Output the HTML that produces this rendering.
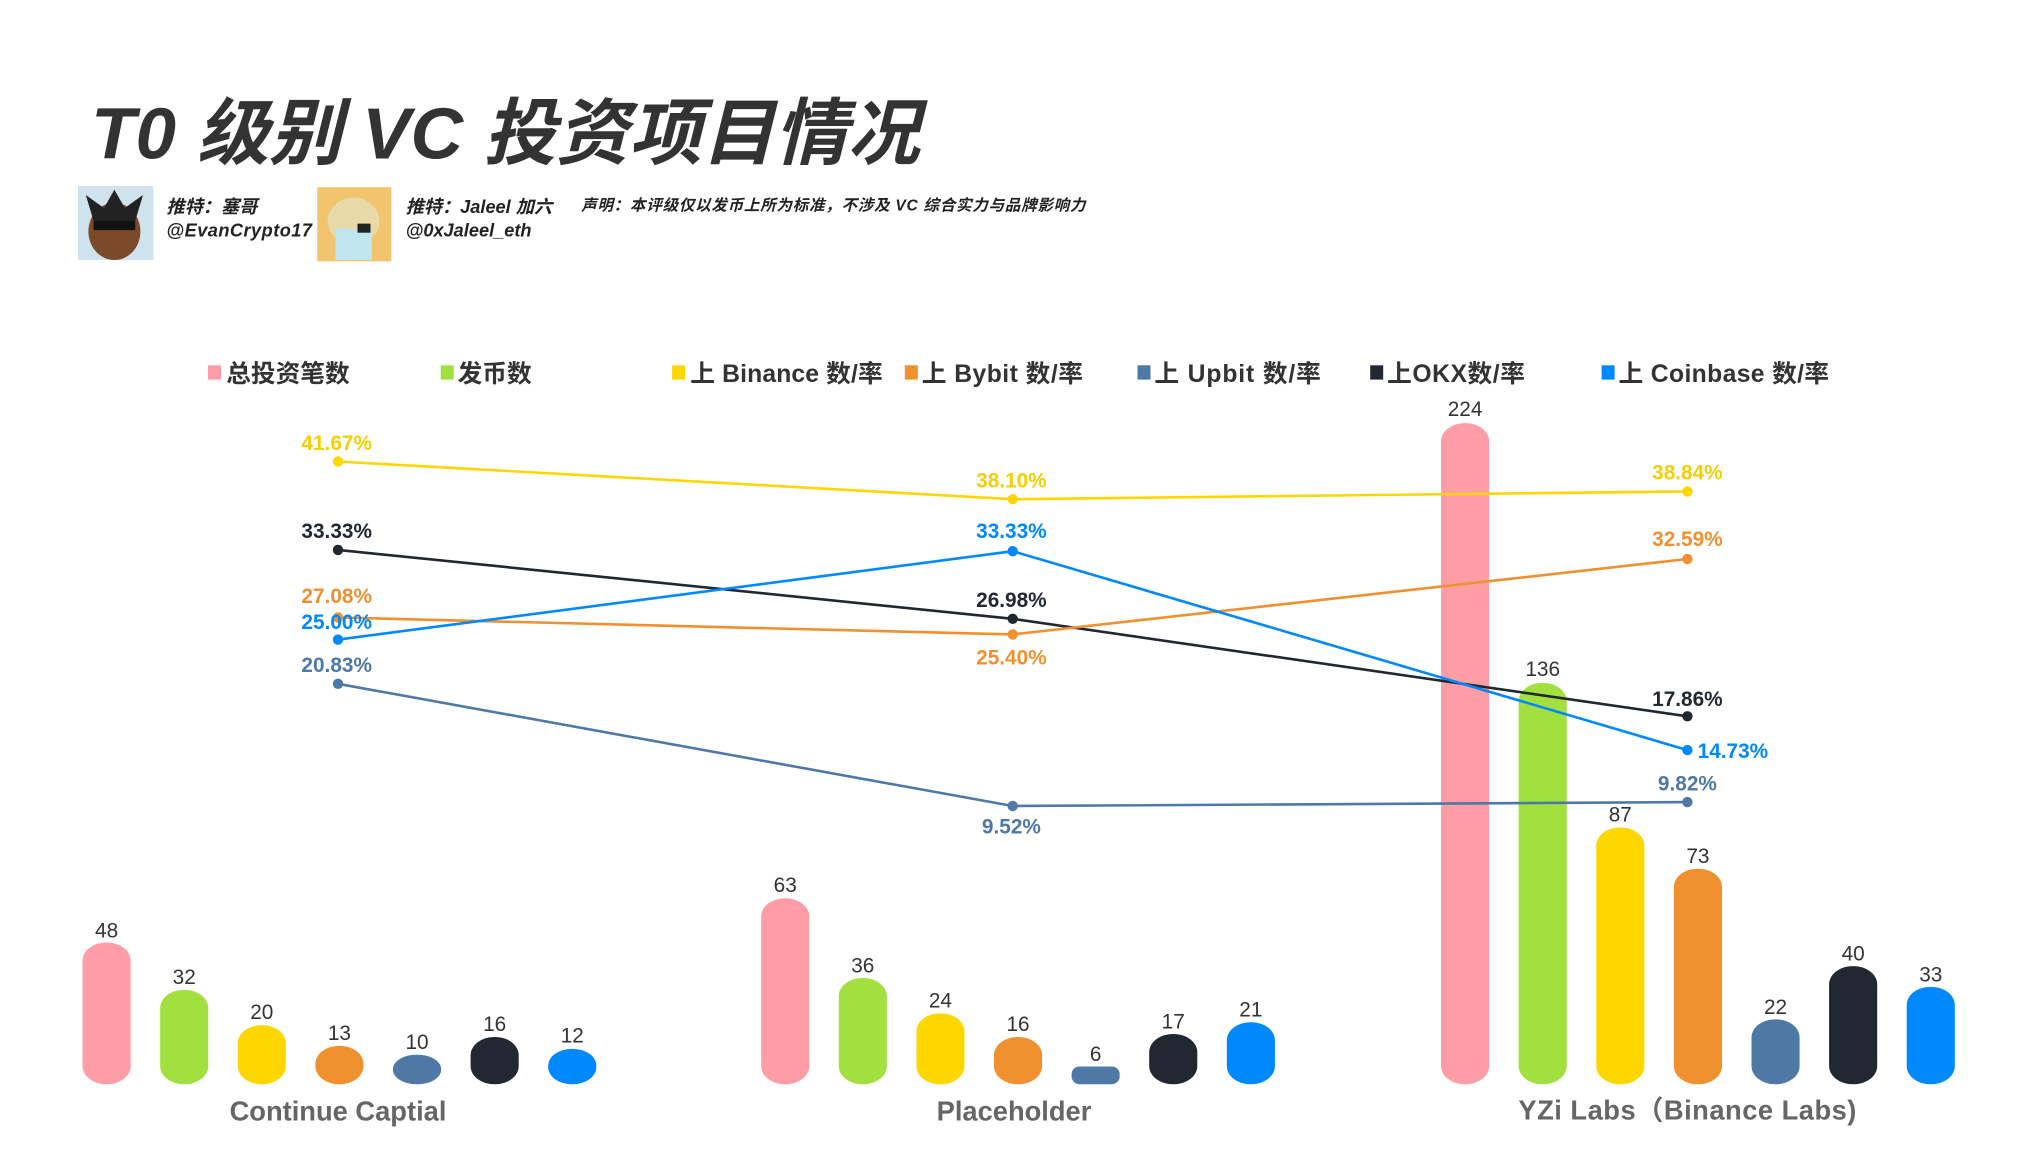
<!DOCTYPE html>
<html><head><meta charset="utf-8"><style>
html,body{margin:0;padding:0;background:#fff;}
svg{display:block;}
text{font-family:"Liberation Sans","Noto Sans CJK SC",sans-serif;}
</style></head><body>
<svg width="2028" height="1164" viewBox="0 0 1560 895.38" xmlns="http://www.w3.org/2000/svg">
<rect width="1560" height="896" fill="#fff"/>
<text x="70" y="122" font-size="56" font-weight="bold" font-style="italic" fill="#333">T0 级别 VC 投资项目情况</text>
<rect x="60" y="143" width="58" height="57" fill="#cfe3ef"/>
<ellipse cx="88" cy="178" rx="20" ry="22" fill="#7a4a2a"/>
<rect x="72" y="168" width="32" height="9" fill="#111"/>
<path d="M66 150 L80 160 L88 146 L96 160 L110 150 L104 170 L72 170 Z" fill="#222"/>
<rect x="244" y="144" width="57" height="57" fill="#f2c46e"/>
<ellipse cx="272" cy="170" rx="20" ry="18" fill="#e8d9a8"/>
<rect x="258" y="176" width="28" height="24" fill="#bfe6ee"/>
<rect x="275" y="172" width="10" height="7" fill="#222"/>
<g font-weight="bold" font-style="italic" fill="#222">
<text x="128" y="164" font-size="14">推特：塞哥</text>
<text x="128" y="182" font-size="14" textLength="112">@EvanCrypto17</text>
<text x="312" y="164" font-size="14">推特：Jaleel 加六</text>
<text x="312" y="182" font-size="14">@0xJaleel_eth</text>
<text x="447" y="162" font-size="12" textLength="388">声明：本评级仅以发币上所为标准，不涉及 VC 综合实力与品牌影响力</text>
</g>
<g font-size="19" font-weight="bold" fill="#333">
<rect x="160" y="281" width="10" height="11" fill="#FF9DA7"/><text x="174" y="294">总投资笔数</text>
<rect x="339" y="281" width="10" height="11" fill="#A2E03F"/><text x="352" y="294">发币数</text>
<rect x="517" y="281" width="10" height="11" fill="#FFD700"/><text x="531" y="294" textLength="148">上 Binance 数/率</text>
<rect x="696" y="281" width="10" height="11" fill="#F0902F"/><text x="709" y="294" textLength="124">上 Bybit 数/率</text>
<rect x="875" y="281" width="10" height="11" fill="#4E79A7"/><text x="888" y="294" textLength="128">上 Upbit 数/率</text>
<rect x="1054" y="281" width="10" height="11" fill="#222831"/><text x="1067" y="294" textLength="106">上OKX数/率</text>
<rect x="1232" y="281" width="10" height="11" fill="#0088FF"/><text x="1245" y="294" textLength="162">上 Coinbase 数/率</text>
</g>
<g>
<rect x="63.5" y="725" width="37" height="109" rx="18" ry="14" fill="#FF9DA7"/>
<rect x="123.2" y="761.4" width="37" height="72.6" rx="18" ry="14" fill="#A2E03F"/>
<rect x="182.9" y="788.6" width="37" height="45.4" rx="18" ry="14" fill="#FFD700"/>
<rect x="242.6" y="804.5" width="37" height="29.5" rx="18" ry="14" fill="#F0902F"/>
<rect x="302.3" y="811.3" width="37" height="22.7" rx="18" ry="11" fill="#4E79A7"/>
<rect x="362" y="797.7" width="37" height="36.3" rx="18" ry="14" fill="#222831"/>
<rect x="421.7" y="806.8" width="37" height="27.2" rx="18" ry="13" fill="#0088FF"/>
<rect x="585.5" y="691" width="37" height="143" rx="18" ry="14" fill="#FF9DA7"/>
<rect x="645.2" y="752.3" width="37" height="81.7" rx="18" ry="14" fill="#A2E03F"/>
<rect x="704.9" y="779.5" width="37" height="54.5" rx="18" ry="14" fill="#FFD700"/>
<rect x="764.6" y="797.7" width="37" height="36.3" rx="18" ry="14" fill="#F0902F"/>
<rect x="824.3" y="820.4" width="37" height="13.6" rx="6" ry="6" fill="#4E79A7"/>
<rect x="884" y="795.4" width="37" height="38.6" rx="18" ry="14" fill="#222831"/>
<rect x="943.7" y="786.3" width="37" height="47.7" rx="18" ry="14" fill="#0088FF"/>
<rect x="1108.5" y="325.5" width="37" height="508.5" rx="18" ry="14" fill="#FF9DA7"/>
<rect x="1168.2" y="525.3" width="37" height="308.7" rx="18" ry="14" fill="#A2E03F"/>
<rect x="1227.9" y="636.5" width="37" height="197.5" rx="18" ry="14" fill="#FFD700"/>
<rect x="1287.6" y="668.3" width="37" height="165.7" rx="18" ry="14" fill="#F0902F"/>
<rect x="1347.3" y="784.1" width="37" height="49.9" rx="18" ry="14" fill="#4E79A7"/>
<rect x="1407" y="743.2" width="37" height="90.8" rx="18" ry="14" fill="#222831"/>
<rect x="1466.7" y="759.1" width="37" height="74.9" rx="18" ry="14" fill="#0088FF"/>
</g>
<g font-size="16" fill="#333" text-anchor="middle">
<text x="82" y="721">48</text><text x="141.7" y="757">32</text><text x="201.4" y="784">20</text><text x="261.1" y="800">13</text><text x="320.8" y="807">10</text><text x="380.5" y="793">16</text><text x="440.2" y="802">12</text>
<text x="604" y="686">63</text><text x="663.7" y="748">36</text><text x="723.4" y="775">24</text><text x="783.1" y="793">16</text><text x="842.8" y="816">6</text><text x="902.5" y="791">17</text><text x="962.2" y="782">21</text>
<text x="1127" y="320">224</text><text x="1186.7" y="520">136</text><text x="1246.4" y="632">87</text><text x="1306.1" y="664">73</text><text x="1365.8" y="780">22</text><text x="1425.5" y="739">40</text><text x="1485.2" y="755">33</text>
</g>
<g font-size="21" font-weight="bold" fill="#666" text-anchor="middle">
<text x="260" y="862">Continue Captial</text>
<text x="780" y="862">Placeholder</text>
<text x="1298" y="861" textLength="260">YZi Labs（Binance Labs)</text>
</g>
<g fill="none" stroke-width="2">
<polyline points="260,355 779,384 1298,378" stroke="#FFD700"/>
<polyline points="260,423 779,476 1298,551" stroke="#222831"/>
<polyline points="260,475 779,488 1298,430" stroke="#F0902F"/>
<polyline points="260,492 779,424 1298,577" stroke="#0088FF"/>
<polyline points="260,526 779,620 1298,617" stroke="#4E79A7"/>
</g>
<g>
<circle cx="260" cy="355" r="4" fill="#FFD700"/><circle cx="779" cy="384" r="4" fill="#FFD700"/><circle cx="1298" cy="378" r="4" fill="#FFD700"/>
<circle cx="260" cy="423" r="4" fill="#222831"/><circle cx="779" cy="476" r="4" fill="#222831"/><circle cx="1298" cy="551" r="4" fill="#222831"/>
<circle cx="260" cy="475" r="4" fill="#F0902F"/><circle cx="779" cy="488" r="4" fill="#F0902F"/><circle cx="1298" cy="430" r="4" fill="#F0902F"/>
<circle cx="260" cy="492" r="4" fill="#0088FF"/><circle cx="779" cy="424" r="4" fill="#0088FF"/><circle cx="1298" cy="577" r="4" fill="#0088FF"/>
<circle cx="260" cy="526" r="4" fill="#4E79A7"/><circle cx="779" cy="620" r="4" fill="#4E79A7"/><circle cx="1298" cy="617" r="4" fill="#4E79A7"/>
</g>
<g font-size="16" font-weight="bold" text-anchor="middle">
<text x="259" y="346" fill="#F5D000">41.67%</text>
<text x="778" y="375" fill="#F5D000">38.10%</text>
<text x="1298" y="369" fill="#F5D000">38.84%</text>
<text x="259" y="414" fill="#222831">33.33%</text>
<text x="778" y="467" fill="#222831">26.98%</text>
<text x="1298" y="543" fill="#222831">17.86%</text>
<text x="259" y="464" fill="#F0902F">27.08%</text>
<text x="778" y="511" fill="#F0902F">25.40%</text>
<text x="1298" y="420" fill="#F0902F">32.59%</text>
<text x="259" y="484" fill="#0088FF">25.00%</text>
<text x="778" y="414" fill="#0088FF">33.33%</text>
<text x="1333" y="583" fill="#0088FF">14.73%</text>
<text x="259" y="517" fill="#4E79A7">20.83%</text>
<text x="778" y="641" fill="#4E79A7">9.52%</text>
<text x="1298" y="608" fill="#4E79A7">9.82%</text>
</g>
</svg>
</body></html>
